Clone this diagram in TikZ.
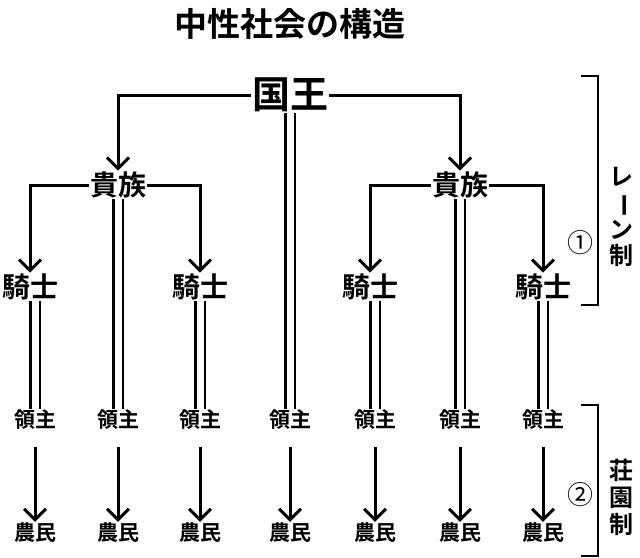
\documentclass[tikz,border=0pt]{standalone}
\usepackage{fontspec}
\usepackage{graphicx}
\setmainfont{Noto Sans CJK JP}[BoldFont={Noto Sans CJK JP Bold}]
\usetikzlibrary{arrows.meta}
\begin{document}
\begin{tikzpicture}[x=1pt,y=-1pt,
  lab/.style={inner sep=1pt,font=\bfseries\fontsize{28}{28}\selectfont},
  sm/.style={inner sep=1pt,font=\bfseries\fontsize{21}{21}\selectfont},
  arr/.style={line width=3pt,-{Straight Barb[length=11pt,width=22pt,line width=3pt]}},
  dbl/.style={double distance=7pt,line width=2.5pt},
  br/.style={line width=2.6pt}]
\useasboundingbox (0,0) rectangle (640,557);
\node[font=\bfseries\fontsize{33}{33}\selectfont] (t) at (290,24) {中性社会の構造};
\node[lab,font=\bfseries\fontsize{38}{38}\selectfont] (k) at (290,95) {国王};
\node[lab] (n1) at (118,185) {貴族};
\node[lab] (n2) at (460,185) {貴族};
\node[lab] (s1) at (30,287) {騎士};
\node[lab] (s2) at (200,287) {騎士};
\node[lab] (s3) at (370,287) {騎士};
\node[lab] (s4) at (543,287) {騎士};
\foreach \i/\x in {1/35,2/118,3/200,4/290,5/375,6/460,7/543}{
  \node[sm] (r\i) at (\x,420) {領主};
  \node[sm] (f\i) at (\x,533) {農民};
  \draw[arr] (r\i.south) ++(0,16) -- (f\i.north);
}
\draw[arr] (k.west) -| (n1.north);
\draw[arr] (k.east) -| (n2.north);
\draw[arr] (n1.west) -| (s1.north);
\draw[arr] (n1.east) -| (s2.north);
\draw[arr] (n2.west) -| (s3.north);
\draw[arr] (n2.east) -| (s4.north);
\draw[dbl] (k.south) -- (r4.north);
\draw[dbl] (n1.south) -- (r2.north);
\draw[dbl] (n2.south) -- (r6.north);
\draw[dbl] (s1.south -| r1) -- (r1.north);
\draw[dbl] (s2.south) -- (r3.north);
\draw[dbl] (s3.south -| r5) -- (r5.north);
\draw[dbl] (s4.south) -- (r7.north);
\coordinate (b1a) at (581,76); \coordinate (b1b) at (598,76);
\coordinate (b1c) at (598,305); \coordinate (b1d) at (581,305);
\draw[br] (b1a) -- (b1b) -- (b1c) -- (b1d);
\coordinate (b2a) at (581,405); \coordinate (b2b) at (598,405);
\coordinate (b2c) at (598,556); \coordinate (b2d) at (581,556);
\draw[br] (b2a) -- (b2b) -- (b2c) -- (b2d);
\node[font=\fontsize{26}{26}\selectfont,inner sep=0pt] (c1) at (580,243) {①};
\node[font=\fontsize{26}{26}\selectfont,inner sep=0pt] (c2) at (580,495) {②};
\node[lab,font=\bfseries\fontsize{24}{24}\selectfont,align=center,inner sep=0pt] (v1) at (621,217) {レ\\[2pt]\rotatebox[origin=c]{-90}{ー}\\[2pt]ン\\[2pt]制};
\node[lab,font=\bfseries\fontsize{24}{27}\selectfont,align=center,inner sep=0pt] (v2) at (621,497) {荘\\園\\制};
\end{tikzpicture}
\end{document}
